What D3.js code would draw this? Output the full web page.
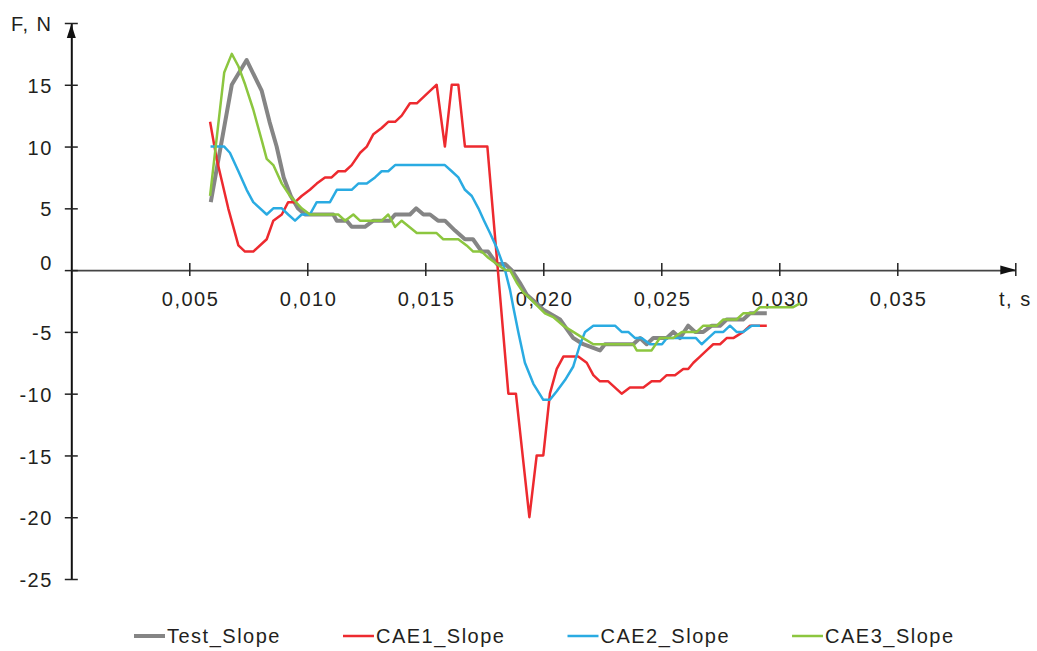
<!DOCTYPE html>
<html>
<head>
<meta charset="utf-8">
<script src="https://cdn.jsdelivr.net/npm/d3@7"></script>
<style>
  body { margin: 0; background: #fff; }
  text { font-family: "Liberation Sans", Arial, sans-serif; font-size: 20px; fill: #231f20; letter-spacing: 1.5px; }
</style>
</head>
<body>
<svg id="chart" width="1037" height="651"></svg>
<script>
// Force over time, [t (s), F (N)]
const testSlope = [[0.00591,5.5],[0.00680,15.0],[0.00743,17.0],[0.00807,14.5],[0.00840,12.0],[0.00870,10.0],[0.00900,7.5],[0.00930,6.0],[0.00960,5.0],[0.00990,4.5],[0.01011,4.5],[0.01110,4.5],[0.01125,4.0],[0.01167,4.0],[0.01188,3.5],[0.01244,3.5],[0.01280,4.0],[0.01350,4.0],[0.01372,4.5],[0.01435,4.5],[0.01461,5.0],[0.01492,4.5],[0.01520,4.5],[0.01554,4.0],[0.01583,4.0],[0.01626,3.2],[0.01668,2.5],[0.01702,2.5],[0.01739,1.5],[0.01766,1.5],[0.01803,0.5],[0.01838,0.5],[0.01866,0.0],[0.01900,-1.0],[0.01930,-2.0],[0.01960,-2.5],[0.02000,-3.2],[0.02071,-4.0],[0.02127,-5.5],[0.02169,-6.0],[0.02240,-6.5],[0.02261,-6.0],[0.02381,-6.0],[0.02410,-5.5],[0.02438,-6.0],[0.02466,-5.5],[0.02523,-5.5],[0.02551,-5.0],[0.02579,-5.5],[0.02614,-4.5],[0.02643,-5.0],[0.02678,-5.0],[0.02714,-4.5],[0.02749,-4.5],[0.02777,-4.0],[0.02847,-4.0],[0.02876,-3.5],[0.02947,-3.5]];

const cae1Slope = [[0.00588,12.0],[0.00616,9.0],[0.00665,5.0],[0.00708,2.0],[0.00736,1.5],[0.00771,1.5],[0.00828,2.5],[0.00856,4.0],[0.00892,4.5],[0.00919,5.5],[0.00948,5.5],[0.00976,6.0],[0.01011,6.5],[0.01040,7.0],[0.01075,7.5],[0.01103,7.5],[0.01131,8.0],[0.01160,8.0],[0.01188,8.5],[0.01224,9.5],[0.01252,10.0],[0.01280,11.0],[0.01315,11.5],[0.01343,12.0],[0.01372,12.0],[0.01400,12.5],[0.01435,13.5],[0.01464,13.5],[0.01492,14.0],[0.01520,14.5],[0.01548,15.0],[0.01583,10.0],[0.01612,15.0],[0.01640,15.0],[0.01668,10.0],[0.01763,10.0],[0.01852,-10.0],[0.01884,-10.0],[0.01941,-20.0],[0.01972,-15.0],[0.02000,-15.0],[0.02028,-10.0],[0.02057,-8.0],[0.02085,-7.0],[0.02148,-7.0],[0.02184,-7.5],[0.02212,-8.5],[0.02240,-9.0],[0.02275,-9.0],[0.02332,-10.0],[0.02367,-9.5],[0.02424,-9.5],[0.02459,-9.0],[0.02494,-9.0],[0.02523,-8.5],[0.02558,-8.5],[0.02593,-8.0],[0.02614,-8.0],[0.02636,-7.5],[0.02664,-7.0],[0.02692,-6.5],[0.02720,-6.0],[0.02749,-6.0],[0.02777,-5.5],[0.02805,-5.5],[0.02847,-5.0],[0.02876,-4.5],[0.02947,-4.5]];

const cae2Slope = [[0.00590,10.0],[0.00648,10.0],[0.00672,9.5],[0.00708,8.0],[0.00743,6.5],[0.00771,5.5],[0.00828,4.5],[0.00856,5.0],[0.00892,5.0],[0.00919,4.5],[0.00948,4.0],[0.00976,4.5],[0.01011,4.5],[0.01040,5.5],[0.01096,5.5],[0.01125,6.5],[0.01188,6.5],[0.01216,7.0],[0.01252,7.0],[0.01287,7.5],[0.01315,8.0],[0.01343,8.0],[0.01372,8.5],[0.01583,8.5],[0.01612,8.0],[0.01640,7.5],[0.01668,6.5],[0.01697,6.0],[0.01725,5.0],[0.01749,4.0],[0.01774,3.0],[0.01803,1.8],[0.01838,0.0],[0.01859,-1.6],[0.01873,-3.0],[0.01894,-5.0],[0.01922,-7.5],[0.01958,-9.2],[0.02000,-10.5],[0.02028,-10.5],[0.02057,-9.8],[0.02092,-8.9],[0.02127,-7.8],[0.02156,-6.0],[0.02177,-5.0],[0.02212,-4.5],[0.02304,-4.5],[0.02332,-5.0],[0.02360,-5.0],[0.02389,-5.5],[0.02417,-5.5],[0.02452,-6.0],[0.02503,-6.0],[0.02524,-5.5],[0.02647,-5.5],[0.02671,-6.0],[0.02699,-5.5],[0.02728,-5.0],[0.02763,-5.0],[0.02791,-4.5],[0.02819,-5.0],[0.02847,-5.0],[0.02883,-4.5],[0.02918,-4.5]];

const cae3Slope = [[0.00588,6.0],[0.00648,16.0],[0.00680,17.5],[0.00708,16.5],[0.00737,15.0],[0.00771,13.0],[0.00807,10.5],[0.00828,9.0],[0.00856,8.5],[0.00892,7.0],[0.00927,6.0],[0.00976,5.0],[0.01011,4.5],[0.01131,4.5],[0.01160,4.0],[0.01195,4.5],[0.01223,4.0],[0.01315,4.0],[0.01343,4.5],[0.01372,3.5],[0.01400,4.0],[0.01464,3.0],[0.01548,3.0],[0.01576,2.5],[0.01640,2.5],[0.01675,2.0],[0.01703,1.5],[0.01739,1.5],[0.01767,1.0],[0.01803,0.5],[0.01838,0.0],[0.01859,0.0],[0.01887,-1.0],[0.01915,-1.8],[0.01944,-2.3],[0.02007,-3.5],[0.02042,-3.8],[0.02085,-4.5],[0.02127,-5.0],[0.02169,-5.5],[0.02212,-6.0],[0.02381,-6.0],[0.02396,-6.5],[0.02459,-6.5],[0.02494,-5.5],[0.02551,-5.5],[0.02587,-5.0],[0.02650,-5.0],[0.02678,-4.5],[0.02735,-4.5],[0.02763,-4.0],[0.02819,-4.0],[0.02847,-3.5],[0.02890,-3.5],[0.02918,-3.0],[0.03059,-3.0],[0.03088,-2.7]];

const seriesNames = ["Test_Slope", "CAE1_Slope", "CAE2_Slope", "CAE3_Slope"];
const seriesColors = ["#858585", "#ed2a2f", "#2aabe2", "#8cc63f"];
const seriesWidths = [4, 2.5, 2.5, 2.5];

const xTickValues = [0.005, 0.010, 0.015, 0.020, 0.025, 0.030, 0.035, 0.040];
const yTickValues = [-25, -20, -15, -10, -5, 0, 5, 10, 15, 20];
const xAxisTitle = "t, s";
const yAxisTitle = "F, N";

const svg = d3.select("#chart");
const x = d3.scaleLinear().domain([0, 0.04]).range([71.3, 1015.3]);
const y = d3.scaleLinear().domain([-25, 20]).range([579, 23]);

const commaLocale = d3.formatLocale({ decimal: ",", thousands: ".", grouping: [3], currency: ["", ""], minus: "-" });
const fmtX = commaLocale.format(".3f");

// x axis (drawn at F = 0)
const gx = svg.append("g").attr("transform", `translate(0,${y(0)})`)
  .call(d3.axisBottom(x).tickValues(xTickValues).tickSize(6).tickSizeOuter(0)
    .tickFormat(d => d >= 0.0399 ? "" : fmtX(d)));
gx.select(".domain").attr("stroke", "#444").attr("stroke-width", 1.6);
gx.selectAll(".tick line").attr("y1", -7).attr("y2", 6).attr("stroke", "#222").attr("stroke-width", 1.5);
gx.selectAll(".tick text").attr("y", 36).attr("dy", 0).attr("dx", 0.75)
  .attr("font-size", 20).attr("font-family", null).attr("fill", "#231f20");

// y axis
const gy = svg.append("g").attr("transform", `translate(${x(0)},0)`)
  .call(d3.axisLeft(y).tickValues(yTickValues).tickSize(6.5).tickSizeOuter(0)
    .tickFormat(d => d === 20 ? "" : String(d)));
gy.select(".domain").attr("stroke", "#111").attr("stroke-width", 2);
gy.selectAll(".tick line").attr("x1", 6.5).attr("x2", -6.5).attr("stroke", "#222").attr("stroke-width", 1.5);
gy.selectAll(".tick text").attr("x", -18.5).attr("dy", d => d === 0 ? "-0.05em" : "0.38em")
  .attr("font-size", 20).attr("font-family", null).attr("fill", "#231f20");

// axis arrowheads
svg.append("path")
  .attr("d", `M${x(0)},${y(20) + 1} L${x(0) - 4.5},${y(20) + 15} L${x(0) + 4.5},${y(20) + 15} Z`)
  .attr("fill", "#111");
svg.append("path")
  .attr("d", `M${x(0.04) + 1},${y(0)} L${x(0.04) - 15},${y(0) - 4.5} L${x(0.04) - 15},${y(0) + 4.5} Z`)
  .attr("fill", "#111");

// axis titles
svg.append("text").attr("x", 11).attr("y", 31).text(yAxisTitle);
svg.append("text").attr("x", 999).attr("y", 306).text(xAxisTitle);

// series
const line = d3.line().x(d => x(d[0])).y(d => y(d[1]));
const allSeries = [testSlope, cae1Slope, cae2Slope, cae3Slope];
svg.append("g").selectAll("path").data(allSeries).join("path")
  .attr("d", line)
  .attr("fill", "none")
  .attr("stroke", (d, i) => seriesColors[i])
  .attr("stroke-width", (d, i) => seriesWidths[i])
  .attr("stroke-linejoin", "round");

// legend
const legend = svg.append("g");
let lx = 134;
const ly = 636;
seriesNames.forEach((name, i) => {
  legend.append("line").attr("x1", lx).attr("x2", lx + 31).attr("y1", ly).attr("y2", ly)
    .attr("stroke", seriesColors[i]).attr("stroke-width", seriesWidths[i]);
  const t = legend.append("text").attr("x", lx + 33).attr("y", ly + 7).text(name);
  lx += 33 + t.node().getComputedTextLength() + 62;
});
</script>
</body>
</html>
